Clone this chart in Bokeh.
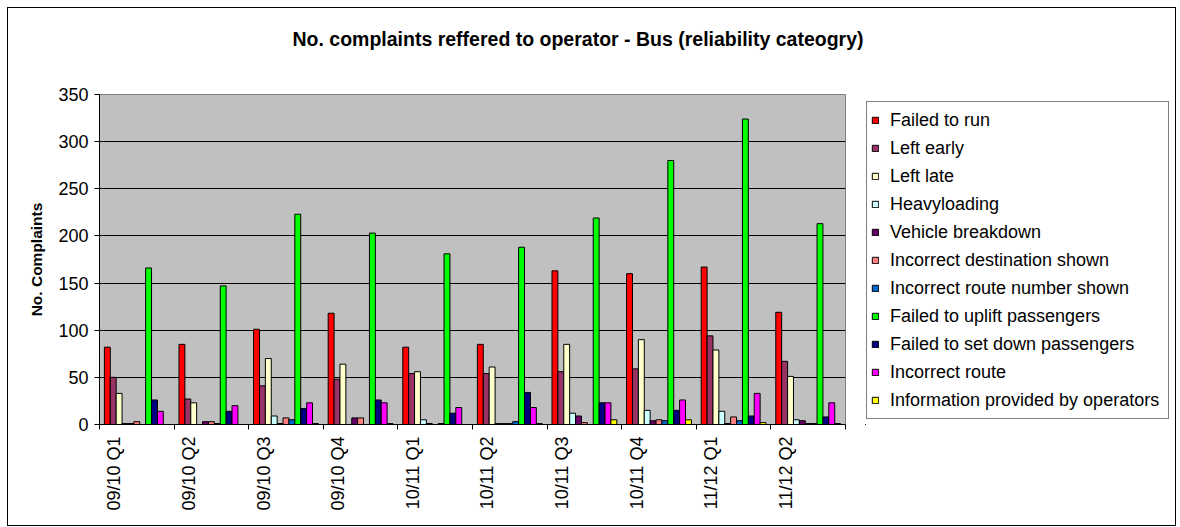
import math
from bokeh.plotting import figure
from bokeh.layouts import row
from bokeh.models import Range1d, FixedTicker, Legend, LegendItem, ColumnDataSource
from bokeh.transform import dodge
from bokeh.embed import file_html
from bokeh.resources import INLINE

quarters = ["09/10 Q1", "09/10 Q2", "09/10 Q3", "09/10 Q4", "10/11 Q1",
            "10/11 Q2", "10/11 Q3", "10/11 Q4", "11/12 Q1", "11/12 Q2"]

failed_to_run = [82, 85, 101, 118, 82, 85, 163, 160, 167, 119]
left_early = [50, 27, 41, 48, 54, 54, 56, 59, 94, 67]
left_late = [33, 23, 70, 64, 56, 61, 85, 90, 79, 51]
heavyloading = [1, 0, 9, 0, 5, 1, 12, 15, 14, 5]
vehicle_breakdown = [1, 3, 1, 7, 1, 1, 9, 4, 1, 4]
incorrect_destination = [3, 3, 7, 7, 0, 1, 2, 5, 8, 1]
incorrect_route_number = [0, 1, 5, 0, 1, 3, 0, 4, 4, 1]
failed_to_uplift = [166, 147, 223, 203, 181, 188, 219, 280, 324, 213]
failed_to_set_down = [26, 14, 17, 26, 12, 34, 23, 15, 9, 8]
incorrect_route = [14, 20, 23, 23, 18, 18, 23, 26, 33, 23]
information_by_operators = [0, 0, 1, 1, 0, 1, 5, 5, 2, 1]

series_names = ["Failed to run", "Left early", "Left late", "Heavyloading",
                "Vehicle breakdown", "Incorrect destination shown",
                "Incorrect route number shown", "Failed to uplift passengers",
                "Failed to set down passengers", "Incorrect route",
                "Information provided by operators"]
series_values = [failed_to_run, left_early, left_late, heavyloading,
                 vehicle_breakdown, incorrect_destination, incorrect_route_number,
                 failed_to_uplift, failed_to_set_down, incorrect_route,
                 information_by_operators]
colors = ["#FF0000", "#993366", "#FFFFCC", "#CCFFFF", "#660066", "#FF8080",
          "#0066CC", "#00FF00", "#000080", "#FF00FF", "#FFFF00"]

FONT = "Liberation Sans"
BAR_W = 0.079
HEIGHT = 517
LABEL_SHIFT = -0.3   # rotated category labels sit left of the group centre

# ---- main chart ----
p = figure(width=857, height=HEIGHT, output_backend="svg", toolbar_location=None,
           x_range=Range1d(-0.5, len(quarters) - 0.5), y_range=Range1d(0, 350),
           min_border_left=91, min_border_right=20, min_border_top=86,
           min_border_bottom=101, background_fill_color="#C0C0C0",
           border_fill_color="white", outline_line_color="#808080")

p.title.text = "No. complaints reffered to operator - Bus (reliability cateogry)"
p.title.align = "left"
p.title.offset = 193
p.title.standoff = 0
p.title.padding = dict(left=0, right=0, top=0, bottom=45)
p.title.text_font = FONT
p.title.text_font_size = "19.5px"
p.title.text_font_style = "bold"
p.title.text_color = "black"

# ---- legend panel (separate figure so it is not clipped) ----
p2 = figure(width=310, height=HEIGHT, output_backend="svg", toolbar_location=None,
            x_range=Range1d(1000, 1001), y_range=Range1d(1000, 1001),
            min_border_left=0, min_border_right=0, min_border_top=0,
            min_border_bottom=0, background_fill_color="white",
            border_fill_color="white", outline_line_color=None)
p2.axis.visible = False
p2.grid.grid_line_color = None

n_series = len(series_names)
items = []
for j, (name, vals, col) in enumerate(zip(series_names, series_values, colors)):
    src = ColumnDataSource(dict(idx=list(range(len(quarters))), val=vals))
    glyph_kw = dict(x=dodge("idx", (j - (n_series - 1) / 2) * BAR_W), top="val",
                    width=BAR_W, source=src, fill_color=col, line_color="black",
                    line_width=1)
    p.vbar(**glyph_kw)
    r2 = p2.vbar(**glyph_kw)
    items.append(LegendItem(label=name, renderers=[r2]))

legend = Legend(items=items, location=(1, 5), margin=0, padding=4, ncols=1,
                spacing=0, label_height=28, glyph_width=8, glyph_height=8,
                label_standoff=11, label_width=274,
                label_text_font=FONT, label_text_font_size="18px",
                label_text_color="black",
                border_line_color="black", border_line_width=1,
                background_fill_color="white", background_fill_alpha=1)
p2.add_layout(legend, "center")

# ---- axes ----
label_ticks = [i + LABEL_SHIFT for i in range(len(quarters))]
p.xaxis.ticker = FixedTicker(ticks=label_ticks,
                             minor_ticks=[i - 0.5 for i in range(len(quarters) + 1)])
p.xaxis.major_label_overrides = {t: q for t, q in zip(label_ticks, quarters)}
p.xaxis.major_label_orientation = math.pi / 2
p.xaxis.major_tick_out = 0
p.xaxis.major_tick_in = 0
p.xaxis.major_tick_line_color = None
p.xaxis.minor_tick_out = 5
p.xaxis.minor_tick_in = 0
p.xaxis.minor_tick_line_color = "black"
p.xaxis.major_label_standoff = 7
p.xaxis.major_label_text_font = FONT
p.xaxis.major_label_text_font_size = "18px"
p.xaxis.major_label_text_color = "black"
p.xaxis.axis_line_color = "black"

p.yaxis.ticker = FixedTicker(ticks=list(range(0, 351, 50)))
p.yaxis.major_tick_out = 5
p.yaxis.major_tick_in = 0
p.yaxis.minor_tick_line_color = None
p.yaxis.major_label_standoff = 6
p.yaxis.major_label_text_font = FONT
p.yaxis.major_label_text_font_size = "18px"
p.yaxis.major_label_text_color = "black"
p.yaxis.axis_line_color = "black"
p.yaxis.axis_label = "No. Complaints"
p.yaxis.axis_label_text_font = FONT
p.yaxis.axis_label_text_font_size = "15.5px"
p.yaxis.axis_label_text_font_style = "bold"
p.yaxis.axis_label_text_color = "black"
p.yaxis.axis_label_standoff = 10

p.xgrid.grid_line_color = None
p.ygrid.grid_line_color = "black"
p.ygrid.grid_line_width = 1

layout = row(p, p2, spacing=0,
             styles={"border": "1px solid black", "margin-left": "7px",
                     "margin-top": "7px"})

open("out.html", "w").write(file_html(layout, INLINE))
